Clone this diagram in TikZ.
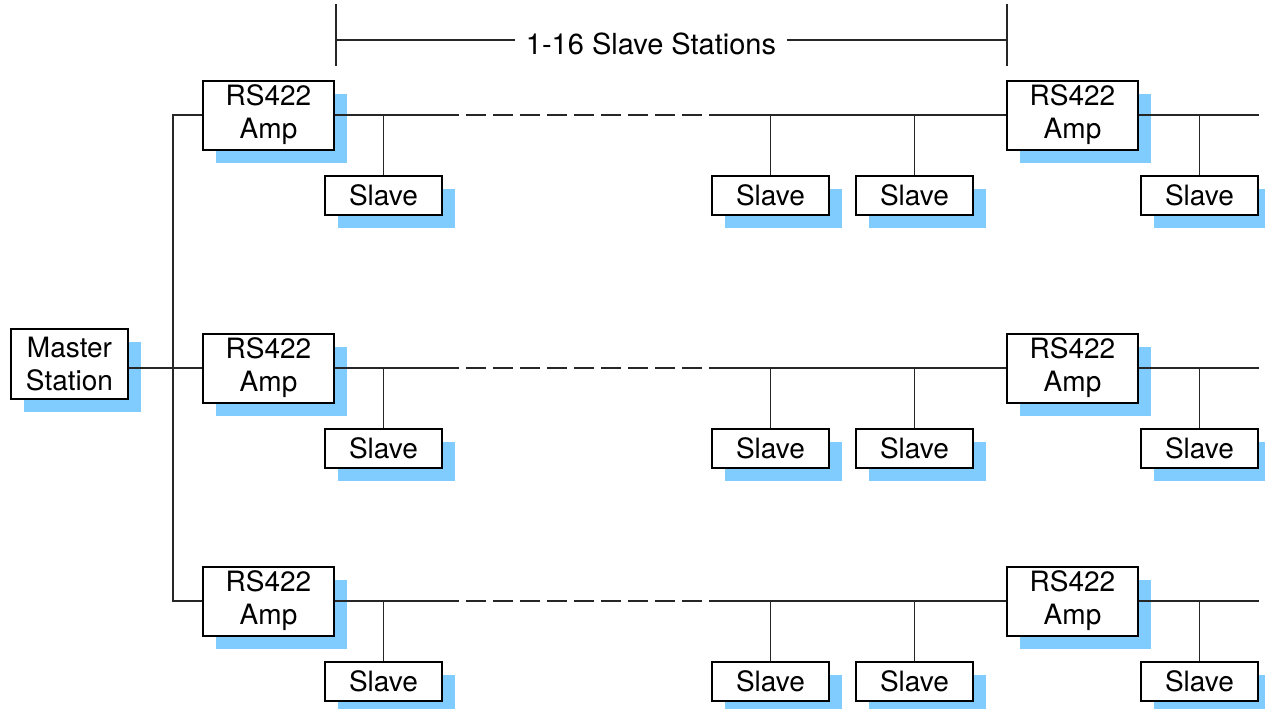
\documentclass[tikz,border=0pt]{standalone}
\usepackage{fontspec}
\setmainfont{TeX Gyre Heros}
\usetikzlibrary{shadows}

\definecolor{shadowblue}{RGB}{128,204,255}

\tikzset{
    unit/.style={draw=black, line width=1pt, fill=white, align=center, inner sep=0pt,
        font=\fontsize{14}{16.5}\selectfont,
        drop shadow={shadow xshift=6.5pt, shadow yshift=-6.5pt, fill=shadowblue, opacity=1}},
    ampbox/.style={unit, minimum width=65.5pt, minimum height=34.5pt},
    slavebox/.style={unit, minimum width=58.5pt, minimum height=19.5pt},
    wire/.style={line width=0.65pt, black!85}
}

\begin{document}
\begin{tikzpicture}[x=0.5pt, y=-0.5pt]
    \useasboundingbox (0,0) rectangle (1265,708);

% master station
    \node[unit, minimum width=58.5pt, minimum height=35pt] (master) at (69.5,364) {Master\\Station};

% rows of amps and slaves
    \foreach \r/\y in {1/115, 2/368, 3/601} {
        \node[ampbox] (ampL\r) at (268.5,\y) {RS422\\Amp};
        \node[ampbox] (ampR\r) at (1072.5,\y) {RS422\\Amp};
        \node[slavebox] (slA\r) at (383.5,\y+80.5) {Slave};
        \node[slavebox] (slB\r) at (770.5,\y+80.5) {Slave};
        \node[slavebox] (slC\r) at (914.5,\y+80.5) {Slave};
        \node[slavebox] (slD\r) at (1199.5,\y+80.5) {Slave};

        % bus
        \coordinate (dashA\r) at (459,\y);
        \coordinate (dashB\r) at (710,\y);
        \draw[wire] (ampL\r.east) -- (dashA\r);
        \draw[wire, dash pattern=on 10pt off 3.5pt, dash phase=10pt] (dashA\r) -- (dashB\r);
        \draw[wire] (dashB\r) -- (ampR\r.west);
        \draw[wire] (ampR\r.east) -- (ampR\r.east -| slD\r.east);

        % drops
        \foreach \s in {A,B,C,D}
            \draw[wire] (sl\s\r.north) -- (sl\s\r.north |- ampL\r.east);
    }

% trunk from master
    \coordinate (trunk) at (173,368);
    \draw[wire] (ampL1.west) -| (trunk) |- (ampL3.west);
    \draw[wire] (master.east |- ampL2.west) -- (ampL2.west);

% span of slave stations
    \coordinate (brLt) at (336,4);
    \coordinate (brLb) at (336,66);
    \coordinate (brRt) at (1007,4);
    \coordinate (brRb) at (1007,66);
    \coordinate (brLm) at (336,40);
    \coordinate (brRm) at (1007,40);
    \node[font=\fontsize{14.5}{17}\selectfont, inner xsep=5.5pt, inner ysep=0pt] (span) at (651,43.5) {1-16 Slave Stations};
    \draw[wire] (brLt) -- (brLb);
    \draw[wire] (brRt) -- (brRb);
    \draw[wire] (brLm) -- (brLm -| span.west);
    \draw[wire] (brRm -| span.east) -- (brRm);
\end{tikzpicture}
\end{document}
